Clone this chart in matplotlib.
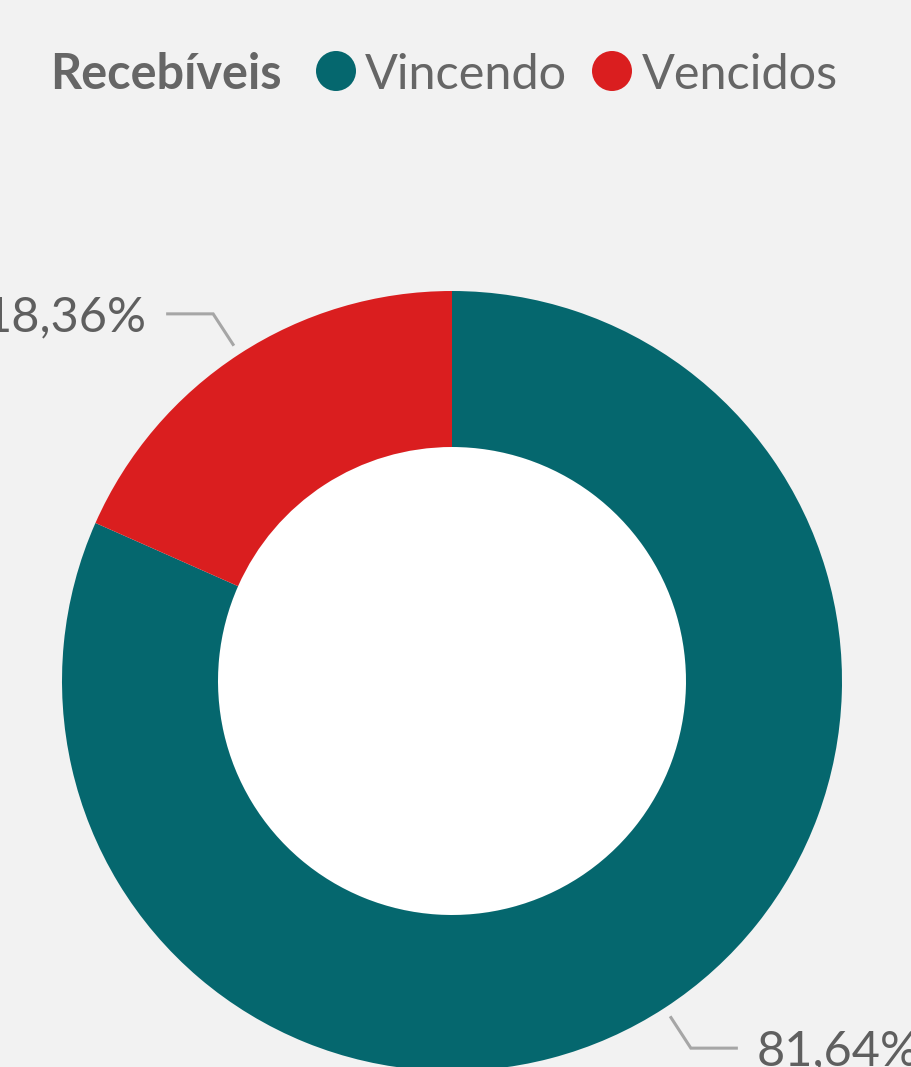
import numpy as np
import matplotlib
matplotlib.use("Agg")
import matplotlib.pyplot as plt
from matplotlib.patches import Circle

# data
categories = ["Vincendo", "Vencidos"]
values = [81.64, 18.36]
colors = ["#05676E", "#DA1E1F"]
legend_title = "Recebíveis"

plt.rcParams['font.family'] = ['Lato', 'DejaVu Sans']
bg = "#F2F2F2"
txt = "#5F5F5F"

W, H = 912, 1067
fig = plt.figure(figsize=(W / 100, H / 100), dpi=100, facecolor=bg)
ax = fig.add_axes([0, 0, 1, 1])
ax.set_xlim(0, W)
ax.set_ylim(0, H)
ax.set_facecolor(bg)
ax.axis("off")

cx, cy = 452, H - 681
R = 390
ring = 0.4 * R

wedges, _ = ax.pie(values, colors=colors, startangle=90, counterclock=False,
                   radius=R, center=(cx, cy),
                   wedgeprops=dict(width=ring, linewidth=0), frame=True)
ax.add_patch(Circle((cx, cy), R - ring, facecolor="white", edgecolor="none", zorder=0.5))
ax.set_xlim(0, W)
ax.set_ylim(0, H)
ax.axis("off")

# data labels with leader lines
fs = 35
for w, v in zip(wedges, values):
    mid = np.deg2rad((w.theta1 + w.theta2) / 2)
    x0, y0 = cx + 400 * np.cos(mid), cy + 400 * np.sin(mid)
    x1, y1 = cx + 438 * np.cos(mid), cy + 438 * np.sin(mid)
    side = 1 if np.cos(mid) > 0 else -1
    x2 = x1 + side * 47
    ax.plot([x0, x1, x2], [y0, y1, y1], color="#A6A6A6", lw=2.2,
            solid_capstyle="butt", solid_joinstyle="miter")
    label = f"{v:.2f}%".replace(".", ",")
    ax.text(x2 + side * 19, y1 - 17.5, label, fontsize=fs, color=txt,
            ha="left" if side > 0 else "right", va="baseline")

# legend
ly = H - 71
ax.text(50, ly - 17.5, legend_title, fontsize=fs, fontweight="bold",
        color="#666666", ha="left", va="baseline")
for x_dot, x_txt, name, c in zip([336, 612], [365, 642], categories, colors):
    ax.add_patch(Circle((x_dot, ly), 20, facecolor=c, edgecolor="none"))
    ax.text(x_txt, ly - 17.5, name, fontsize=fs, color="#666666",
            ha="left", va="baseline")

fig.savefig("out.png", dpi=100, facecolor=bg)
